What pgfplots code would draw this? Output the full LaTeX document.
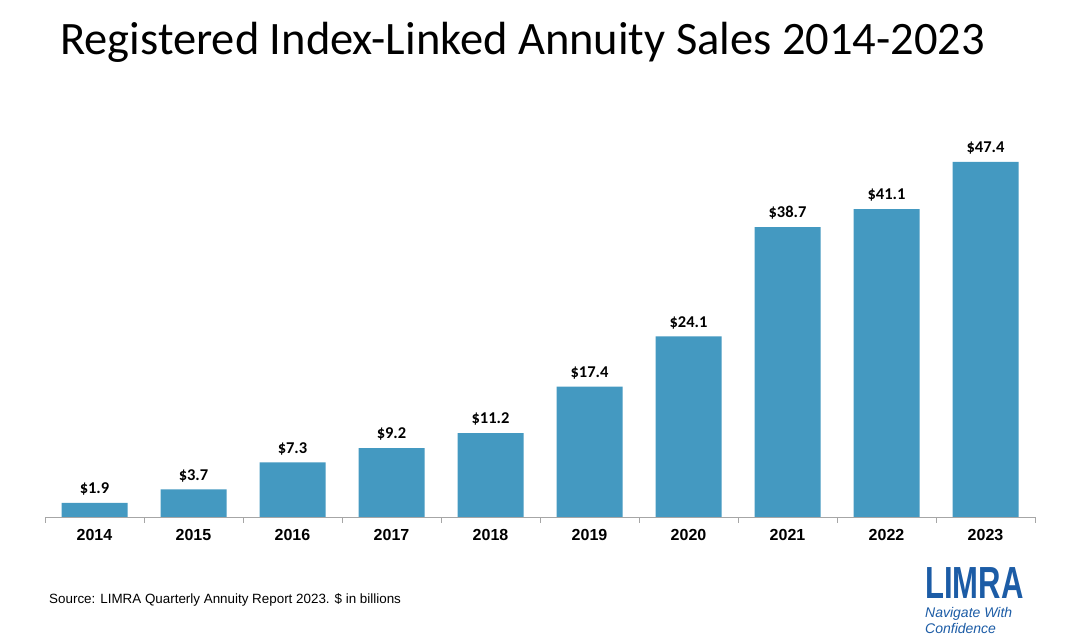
\documentclass[border=0pt]{standalone}
\usepackage{pgfplots}
\pgfplotsset{compat=1.18}
\usepackage{fontspec}
\setmainfont{Carlito}
\newfontfamily\arial{Liberation Sans}
\definecolor{barblue}{RGB}{68,153,193}
\definecolor{axisgray}{RGB}{166,166,166}
\definecolor{limrablue}{RGB}{28,92,166}
\begin{document}
\begin{tikzpicture}
\path[use as bounding box, fill=white] (0,0) rectangle (1065bp,643bp);
% title
\node[anchor=west, font=\fontsize{46.5bp}{52bp}\selectfont, inner sep=0pt] at (60bp,601bp) {Registered Index-Linked Annuity Sales 2014-2023};
\begin{axis}[
  at={(45bp,126bp)}, anchor=south west,
  scale only axis, width=990bp, height=374.5bp,
  xmin=-0.5, xmax=9.5, ymin=0, ymax=50,
  axis x line*=bottom, axis y line=none,
  axis line style={axisgray, line width=0.8pt},
  xtick={0,...,9},
  xticklabels={2014,2015,2016,2017,2018,2019,2020,2021,2022,2023},
  major tick length=0pt,
  extra x ticks={-0.5,0.5,...,9.5},
  extra x tick labels={},
  extra x tick style={major tick length=6bp, tick align=outside, tick style={axisgray, line width=0.8pt}},
  xticklabel style={font=\arial\bfseries\fontsize{16bp}{18bp}\selectfont, yshift=-9bp},
  ybar, bar width=66bp,
  nodes near coords,
  point meta=explicit symbolic,
  every node near coord/.append style={font=\bfseries\fontsize{16.5bp}{18bp}\selectfont, yshift=4bp},
]
\addplot[fill=barblue, draw=none] coordinates {
  (0,1.9) [\$1.9]
  (1,3.7) [\$3.7]
  (2,7.3) [\$7.3]
  (3,9.2) [\$9.2]
  (4,11.2) [\$11.2]
  (5,17.4) [\$17.4]
  (6,24.1) [\$24.1]
  (7,38.7) [\$38.7]
  (8,41.1) [\$41.1]
  (9,47.4) [\$47.4]
};
\end{axis}
% source
\node[anchor=west, font=\arial\fontsize{13.4bp}{15bp}\selectfont, inner sep=0pt] at (49bp,43bp) {Source: LIMRA Quarterly Annuity Report 2023. \$ in billions};
% logo
\node[anchor=south west, text=limrablue, font=\arial\bfseries\fontsize{45bp}{45bp}\selectfont, xscale=0.69, inner sep=0pt] at (925bp,44bp) {LIMRA};
\node[anchor=north west, text=limrablue, align=left, font=\arial\itshape\fontsize{14bp}{16bp}\selectfont, inner sep=0pt] at (925bp,36bp) {Navigate With\\Confidence};
\end{tikzpicture}
\end{document}
